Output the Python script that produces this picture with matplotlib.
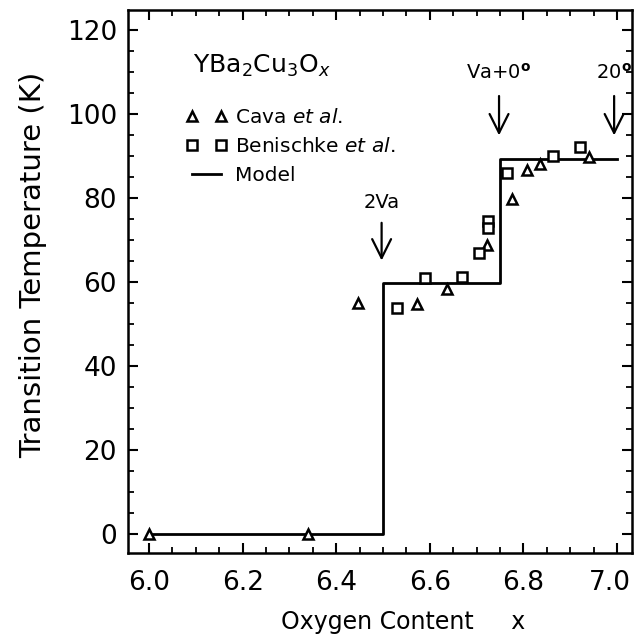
import matplotlib
matplotlib.use('Agg')
import matplotlib.pyplot as plt
import matplotlib.transforms as mtransforms
import numpy as np

plt.rcParams.update({
    'font.family': 'DejaVu Sans',
    'font.size': 19,
    'axes.linewidth': 1.8,
    'xtick.direction': 'in',
    'ytick.direction': 'in',
    'xtick.top': True,
    'ytick.right': True,
    'xtick.major.size': 7,
    'ytick.major.size': 7,
    'xtick.minor.size': 4,
    'ytick.minor.size': 4,
    'xtick.major.width': 1.5,
    'ytick.major.width': 1.5,
    'xtick.minor.width': 1.3,
    'ytick.minor.width': 1.3,
})

# data
cava_x = [6.00, 6.339, 6.447, 6.573, 6.637, 6.722, 6.775, 6.807, 6.836, 6.941]
cava_y = [0.0, 0.0, 55.1, 54.8, 58.3, 68.8, 79.8, 86.8, 88.1, 89.7]

ben_x = [6.529, 6.590, 6.668, 6.706, 6.725, 6.725, 6.766, 6.864, 6.922]
ben_y = [53.9, 61.1, 61.3, 67.0, 74.6, 73.0, 85.9, 90.0, 92.2]

model_x = [6.0, 6.5, 6.5, 6.75, 6.75, 7.0]
model_y = [0.0, 0.0, 59.7, 59.7, 89.4, 89.4]

arrow_labels = ['2Va', 'Va+0$^{\\mathbf{o}}$', '20$^{\\mathbf{o}}$']
arrow_x = [6.497, 6.748, 6.994]
arrow_tail = [74.8, 105.0, 105.0]
arrow_tip = [64.5, 94.3, 94.3]
label_y = [79.0, 110.0, 110.0]

fig = plt.figure(figsize=(6.37, 6.39), dpi=100)
ax = fig.add_axes([0.201, 0.1346, 0.791, 0.8496])

ax.plot(model_x, model_y, color='black', lw=2.0, label='Model')
ax.plot(cava_x, cava_y, linestyle='none', marker='^', ms=7, mfc='white',
        mec='black', mew=1.8, label='Cava $\\it{et\\ al.}$')
ax.plot(ben_x, ben_y, linestyle='none', marker='s', ms=6.5, mfc='white',
        mec='black', mew=1.8, label='Benischke $\\it{et\\ al.}$')

for lab, xa, yt, yp, yl in zip(arrow_labels, arrow_x, arrow_tail, arrow_tip, label_y):
    ax.annotate('', xy=(xa, yp), xytext=(xa, yt),
                arrowprops=dict(arrowstyle='->', lw=1.6, color='black',
                                mutation_scale=34))
    ax.text(xa, yl, lab, ha='center', va='center', fontsize=14)

ax.text(6.093, 111.5, 'YBa$_2$Cu$_3$O$_x$', ha='left', va='center', fontsize=18)

handles, labels = ax.get_legend_handles_labels()
order = [1, 2, 0]
leg = ax.legend([handles[i] for i in order], [labels[i] for i in order],
                loc='upper left', bbox_to_anchor=(0.115, 0.819), frameon=False,
                numpoints=2, handlelength=2.05, handletextpad=0.4,
                labelspacing=0.5, fontsize=14.5, borderaxespad=0, borderpad=0)

ax.set_xlim(5.955, 7.032)
ax.set_ylim(-4.5, 124.8)
ax.set_xticks(np.arange(6.0, 7.01, 0.2))
ax.set_xticks(np.arange(6.0, 7.01, 0.05), minor=True)
ax.set_yticks(np.arange(0, 121, 20))
ax.set_yticks(np.arange(0, 121, 5), minor=True)
ax.set_xticklabels(['6.0', '6.2', '6.4', '6.6', '6.8', '7.0'])
ax.tick_params(axis='x', which='major', pad=12)
ax.tick_params(axis='y', which='major', pad=8)

# last label sits a little left of its tick in the original
shift = mtransforms.ScaledTranslation(-5 / 72, 0, fig.dpi_scale_trans)
ax.get_xticklabels()[-1].set_transform(ax.get_xticklabels()[-1].get_transform() + shift)

ax.set_xlabel('Oxygen Content     x', fontsize=17)
ax.xaxis.set_label_coords(0.545, -0.105)
ax.set_ylabel('Transition Temperature (K)', fontsize=21)
ax.yaxis.set_label_coords(-0.16, 0.53)

fig.savefig('out.png', dpi=100)
